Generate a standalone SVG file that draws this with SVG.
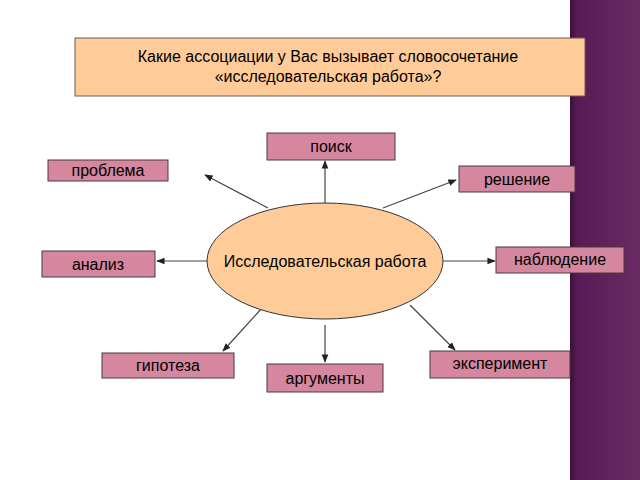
<svg xmlns="http://www.w3.org/2000/svg" width="640" height="480" viewBox="0 0 640 480">
<style>
.b{fill:#d4879f;stroke:#4a3a3a;stroke-width:1}
.t{font-family:"Liberation Sans",Arial,sans-serif;font-size:16px;fill:#000;text-anchor:middle}
.c line{stroke:#444;stroke-width:1.2;marker-end:url(#a)}
</style>
<defs>
<marker id="a" viewBox="0 0 10 10" refX="9" refY="5" markerWidth="7" markerHeight="7" orient="auto"><path d="M0,1 L10,5 L0,9 z" fill="#222"/></marker>
<linearGradient id="s" x1="0" x2="1" y1="0" y2="0"><stop offset="0" stop-color="#3a0f38"/><stop offset="0.1" stop-color="#5a1a55"/><stop offset="1" stop-color="#6a2a62"/></linearGradient>
</defs>
<rect width="640" height="480" fill="#fff"/>
<rect x="570" y="0" width="70" height="480" fill="url(#s)"/>
<g id="title"><rect x="75" y="38" width="510" height="58" fill="#ffcc99" stroke="#6a5a50"/>
<text class="t" x="328" y="62">Какие ассоциации у Вас вызывает словосочетание</text>
<text class="t" x="328" y="82">«исследовательская работа»?</text></g>
<g class="c">
<line x1="325" y1="215" x2="325" y2="161"/>
<line x1="268" y1="208" x2="205" y2="175"/>
<line x1="383" y1="208" x2="456" y2="180"/>
<line x1="443" y1="261" x2="495" y2="261"/>
<line x1="208" y1="261" x2="157" y2="261"/>
<line x1="262" y1="308" x2="223" y2="351"/>
<line x1="325" y1="325" x2="325" y2="362"/>
<line x1="410" y1="305" x2="455" y2="350"/>
</g>
<g id="center"><ellipse cx="325" cy="261" rx="118" ry="58" fill="#ffcc99" stroke="#333"/>
<text class="t" x="325" y="267">Исследовательская работа</text></g>
<g id="n1"><rect class="b" x="267" y="133" width="128" height="27"/><text class="t" x="331" y="152">поиск</text></g>
<g id="n2"><rect class="b" x="48" y="160" width="120" height="21"/><text class="t" x="108" y="176">проблема</text></g>
<g id="n3"><rect class="b" x="459" y="166" width="116" height="26"/><text class="t" x="517" y="185">решение</text></g>
<g id="n4"><rect class="b" x="496" y="247" width="128" height="26"/><text class="t" x="560" y="265">наблюдение</text></g>
<g id="n5"><rect class="b" x="42" y="251" width="113" height="26"/><text class="t" x="98" y="270">анализ</text></g>
<g id="n6"><rect class="b" x="102" y="353" width="132" height="25"/><text class="t" x="168" y="371">гипотеза</text></g>
<g id="n7"><rect class="b" x="267" y="364" width="116" height="28"/><text class="t" x="325" y="384">аргументы</text></g>
<g id="n8"><rect class="b" x="430" y="351" width="140" height="27"/><text class="t" x="500" y="369">эксперимент</text></g>
</svg>
